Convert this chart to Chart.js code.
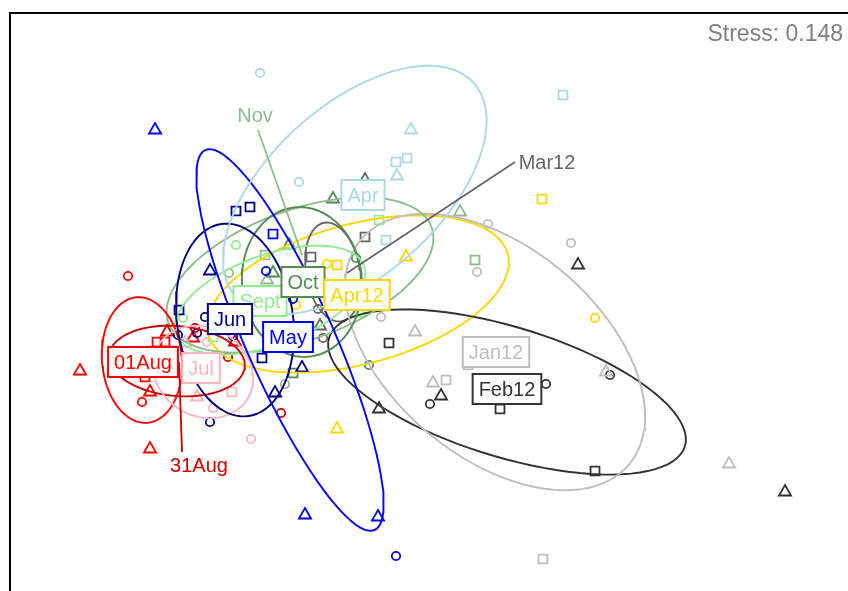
<!DOCTYPE html>
<html>
<head>
<meta charset="utf-8">
<script src="https://cdn.jsdelivr.net/npm/chart.js@4"></script>
<style>
html, body { margin: 0; padding: 0; overflow: hidden; background: #fff; }
#wrap { width: 870px; height: 612px; }
</style>
</head>
<body>
<div id="wrap"><canvas id="nmds"></canvas></div>
<script>
// sampling months and their colours
const months = ['Apr', 'May', 'Jun', 'Jul', '01Aug', '31Aug', 'Sept', 'Oct', 'Nov', 'Jan12', 'Feb12', 'Mar12', 'Apr12'];
const colours = ['#ADD8E6', '#0000FF', '#000080', '#FFB6C1', '#FF0000', '#CD0000', '#90EE90', '#548B54', '#8FBC8F', '#BEBEBE', '#333333', '#666666', '#FFD700'];

// site scores [NMDS1, NMDS2, site]  o = circle, s = square, t = triangle
const scoresApr = [[-0.375, 0.8475, 'o'], [-0.2775, 0.575, 'o'], [0.3825, 0.7925, 's'], [-0.035, 0.625, 's'], [-0.0075, 0.635, 's'], [-0.06, 0.43, 's'], [0.0025, 0.705, 't'], [-0.0325, 0.59, 't']];
const scoresMay = [[-0.36, 0.3525, 'o'], [-0.2925, 0.2825, 'o'], [-0.035, -0.36, 'o'], [-0.4425, 0.19, 'o'], [-0.3425, 0.445, 's'], [-0.6375, 0.705, 't'], [-0.2625, -0.2575, 't'], [-0.08, -0.2625, 't']];
const scoresJun = [[-0.5125, 0.2375, 'o'], [-0.58, 0.1925, 'o'], [-0.5325, 0.1975, 'o'], [-0.5, -0.025, 'o'], [-0.435, 0.5025, 's'], [-0.4, 0.5125, 's'], [-0.5775, 0.255, 's'], [-0.37, 0.135, 's'], [-0.5, 0.3525, 't'], [-0.3375, 0.0475, 't'], [-0.27, 0.11, 't']];
const scoresJul = [[-0.5075, 0.175, 'o'], [-0.4925, 0.01, 'o'], [-0.3975, -0.0675, 'o'], [-0.445, 0.05, 's'], [-0.5325, 0.0375, 't'], [-0.5625, 0.1725, 't']];
const scores01Aug = [[-0.705, 0.34, 'o'], [-0.67, 0.025, 'o'], [-0.6325, 0.175, 's'], [-0.6125, 0.175, 's'], [-0.6625, 0.0875, 's'], [-0.825, 0.1025, 't'], [-0.65, -0.0925, 't'], [-0.65, 0.05, 't'], [-0.5425, 0.185, 't']];
const scores31Aug = [[-0.5375, 0.21, 'o'], [-0.455, 0.1375, 'o'], [-0.3225, -0.0025, 'o'], [-0.4375, 0.175, 't'], [-0.6075, 0.2, 't']];
const scoresSept = [[-0.435, 0.4175, 'o'], [-0.5675, 0.235, 'o'], [-0.0775, 0.48, 's'], [-0.4925, 0.1875, 's'], [-0.125, 0.2475, 't']];
const scoresOct = [[-0.135, 0.385, 'o'], [-0.1025, 0.1175, 'o'], [-0.2925, 0.0975, 's'], [-0.1925, 0.5325, 't'], [-0.3025, 0.4175, 't'], [-0.3425, 0.3475, 't']];
const scoresNov = [[-0.3125, 0.07, 'o'], [-0.4525, 0.3475, 'o'], [0.1625, 0.38, 's'], [-0.3625, 0.3925, 's'], [0.125, 0.5, 't'], [-0.3575, 0.33, 't']];
const scoresJan12 = [[0.195, 0.47, 'o'], [0.4025, 0.4225, 'o'], [0.1675, 0.35, 'o'], [-0.0725, 0.2375, 'o'], [0.09, 0.08, 's'], [0.145, 0.1175, 's'], [0.3325, -0.3675, 's'], [0.0125, 0.2, 't'], [0.0575, 0.0725, 't'], [0.49, 0.1, 't'], [0.7975, -0.13, 't']];
const scoresFeb12 = [[0.5, 0.0925, 'o'], [0.34, 0.07, 'o'], [0.05, 0.02, 'o'], [0.225, 0.0075, 's'], [0.4625, -0.1475, 's'], [-0.0525, 0.1725, 's'], [0.42, 0.3675, 't'], [0.9375, -0.2, 't'], [0.0775, 0.04, 't'], [-0.0775, 0.0075, 't']];
const scoresMar12 = [[-0.23, 0.2575, 'o'], [-0.2175, 0.185, 'o'], [-0.1125, 0.4375, 's'], [-0.2475, 0.3875, 's'], [-0.225, 0.215, 't'], [-0.1125, 0.58, 't']];
const scoresApr12 = [[0.4625, 0.235, 'o'], [-0.2075, 0.37, 'o'], [-0.285, 0.2675, 'o'], [0.33, 0.5325, 's'], [-0.1825, 0.3675, 's'], [-0.1825, -0.0425, 't'], [-0.01, 0.3875, 't']];
const scores = [scoresApr, scoresMay, scoresJun, scoresJul, scores01Aug, scores31Aug, scoresSept, scoresOct, scoresNov, scoresJan12, scoresFeb12, scoresMar12, scoresApr12];

// dispersion ellipses: [centre x, centre y, semi-axis a, semi-axis b, rotation in degrees]
const ellipses = [
	[-0.138, 0.555, 0.40, 0.2125, 42],
	[-0.30, 0.18, 0.52, 0.11, 114],
	[-0.4375, 0.23, 0.2425, 0.145, 98],
	[-0.5175, 0.10, 0.13, 0.11, -30],
	[-0.67, 0.13, 0.1575, 0.10, 95],
	[-0.5825, 0.1275, 0.17, 0.0875, -5],
	[-0.35, 0.28, 0.25, 0.1125, 20],
	[-0.27, 0.325, 0.1875, 0.15, 95],
	[-0.275, 0.3425, 0.35, 0.1625, 20],
	[0.2125, 0.15, 0.4375, 0.2625, -40],
	[0.2425, 0.05, 0.465, 0.1625, -17],
	[-0.1925, 0.35, 0.125, 0.0675, 100],
	[-0.13, 0.295, 0.3875, 0.175, 15]
];

// group centroids, where the month labels sit
const labelX = [-0.1175, -0.305, -0.45, -0.5225, -0.6675, -0.5775, -0.375, -0.2675, -0.27, 0.215, 0.2425, -0.1575, -0.1325];
const labelY = [0.5425, 0.1875, 0.2325, 0.11, 0.125, 0.125, 0.2775, 0.325, 0.3925, 0.15, 0.0575, 0.3475, 0.2925];
// labels pushed out of the crowd with a leader line (null = boxed at the centroid)
const textX = [null, null, null, null, null, -0.5275, null, null, -0.3875, null, null, 0.3425, null];
const textY = [null, null, null, null, null, -0.1325, null, null, 0.7425, null, null, 0.625, null];
const lineX = [null, null, null, null, null, -0.57, null, null, -0.38, null, null, 0.2625, null];
const lineY = [null, null, null, null, null, -0.10, null, null, 0.705, null, null, 0.625, null];
const labelOrder = [6, 0, 1, 2, 3, 4, 5, 7, 8, 9, 10, 11, 12];
const stress = 0.148;

const FONT = '"Liberation Sans", Arial, sans-serif';
const styleOf = { o: 'circle', s: 'rect', t: 'triangle' };
const radiusOf = { o: 4.2, s: 6.3, t: 7 };

function ellipsePath(e) {
	const [cx, cy, a, b, deg] = e;
	const t = deg * Math.PI / 180;
	const pts = [];
	for (let k = 0; k <= 90; k++) {
		const u = 2 * Math.PI * k / 90;
		pts.push({
			x: cx + a * Math.cos(u) * Math.cos(t) - b * Math.sin(u) * Math.sin(t),
			y: cy + a * Math.cos(u) * Math.sin(t) + b * Math.sin(u) * Math.cos(t)
		});
	}
	return pts;
}

const datasets = [];
months.forEach(function (m, i) {
	const s = scores[i];
	datasets.push({
		label: m,
		data: s.map(p => ({ x: p[0], y: p[1] })),
		pointStyle: s.map(p => styleOf[p[2]]),
		pointRadius: s.map(p => radiusOf[p[2]]),
		borderColor: colours[i],
		backgroundColor: 'rgba(0,0,0,0)',
		pointBorderWidth: 1.8,
		showLine: false,
		order: 2
	});
	datasets.push({
		label: m + ' ellipse',
		data: ellipsePath(ellipses[i]),
		showLine: true,
		pointRadius: 0,
		borderColor: colours[i],
		borderWidth: 1.9,
		fill: false,
		order: 1
	});
});

// month labels, leader lines, stress value and the plot frame
const annotate = {
	id: 'annotate',
	afterDatasetsDraw(chart) {
		const { ctx, chartArea } = chart;
		const xs = chart.scales.x, ys = chart.scales.y;
		ctx.save();
		ctx.font = '20px ' + FONT;
		labelOrder.forEach(function (i) {
			const cx = xs.getPixelForValue(labelX[i]);
			const cy = ys.getPixelForValue(labelY[i]);
			ctx.strokeStyle = colours[i];
			ctx.fillStyle = colours[i];
			if (textX[i] !== null) {
				ctx.lineWidth = 1.8;
				ctx.beginPath();
				ctx.moveTo(cx, cy);
				ctx.lineTo(xs.getPixelForValue(lineX[i]), ys.getPixelForValue(lineY[i]));
				ctx.stroke();
				ctx.textAlign = 'center';
				ctx.fillText(months[i], xs.getPixelForValue(textX[i]), ys.getPixelForValue(textY[i]) + 7);
				return;
			}
			const w = ctx.measureText(months[i]).width + 12;
			const h = 30;
			ctx.fillStyle = '#fff';
			ctx.fillRect(cx - w / 2, cy - h / 2, w, h);
			ctx.lineWidth = 2;
			ctx.strokeRect(cx - w / 2, cy - h / 2, w, h);
			ctx.fillStyle = colours[i];
			ctx.textAlign = 'center';
			ctx.fillText(months[i], cx, cy + 7);
		});
		ctx.font = '23px ' + FONT;
		ctx.fillStyle = '#808080';
		ctx.textAlign = 'right';
		ctx.fillText('Stress: ' + stress.toFixed(3), 843, 41);
		ctx.strokeStyle = '#000';
		ctx.lineWidth = 2;
		ctx.strokeRect(chartArea.left, chartArea.top + 1, chartArea.right - chartArea.left, chartArea.bottom - chartArea.top);
		ctx.restore();
	}
};

new Chart(document.getElementById('nmds'), {
	type: 'scatter',
	data: { datasets: datasets },
	options: {
		responsive: true,
		maintainAspectRatio: false,
		animation: false,
		events: [],
		layout: { padding: { left: 10, top: 12, right: 0, bottom: 0 }, autoPadding: false },
		plugins: { legend: { display: false }, tooltip: { enabled: false } },
		scales: {
			x: { type: 'linear', min: -1.0, max: 1.15, display: false },
			y: { type: 'linear', min: -0.5, max: 1.0, display: false }
		}
	},
	plugins: [annotate]
});
</script>
</body>
</html>
